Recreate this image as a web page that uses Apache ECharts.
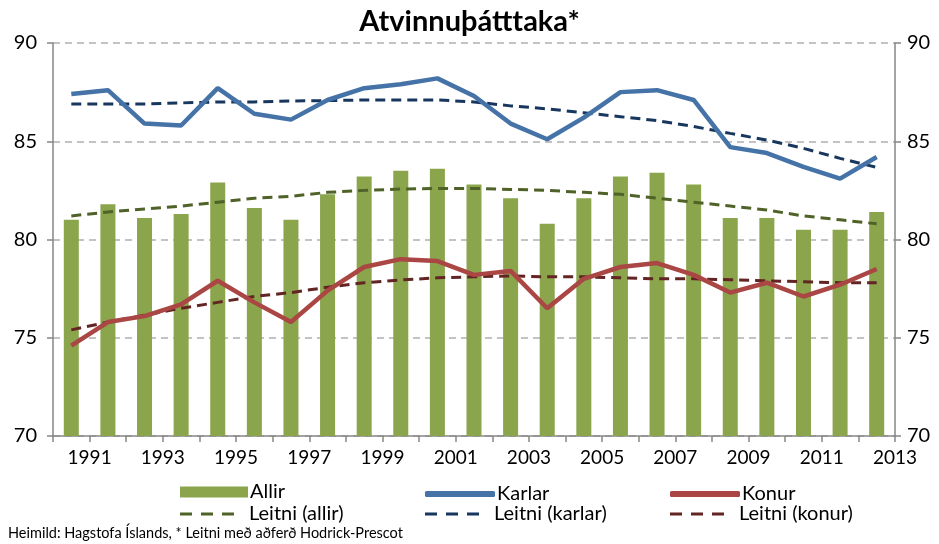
<!DOCTYPE html>
<html>
<head>
<meta charset="utf-8">
<script src="https://cdn.jsdelivr.net/npm/echarts@6/dist/echarts.min.js"></script>
<style>
  html, body { margin: 0; padding: 0; background: #fff; }
  #chart { width: 939px; height: 544px; }
</style>
</head>
<body>
<div id="chart"></div>
<script>
// ár (flokkar)
const years = ["1991", "1992", "1993", "1994", "1995", "1996", "1997", "1998", "1999", "2000", "2001", "2002",
  "2003", "2004", "2005", "2006", "2007", "2008", "2009", "2010", "2011", "2012", "2013"];

const allir = [81.0, 81.8, 81.1, 81.3, 82.9, 81.6, 81.0, 82.3, 83.2, 83.5, 83.6, 82.8,
  82.1, 80.8, 82.1, 83.2, 83.4, 82.8, 81.1, 81.1, 80.5, 80.5, 81.4];
const karlar = [87.4, 87.6, 85.9, 85.8, 87.7, 86.4, 86.1, 87.1, 87.7, 87.9, 88.2, 87.3,
  85.9, 85.1, 86.2, 87.5, 87.6, 87.1, 84.7, 84.4, 83.7, 83.1, 84.2];
const konur = [74.6, 75.8, 76.1, 76.7, 77.9, 76.8, 75.8, 77.4, 78.6, 79.0, 78.9, 78.2,
  78.4, 76.5, 78.0, 78.6, 78.8, 78.2, 77.3, 77.8, 77.1, 77.7, 78.5];
const leitniAllir = [81.2, 81.4, 81.55, 81.7, 81.9, 82.1, 82.2, 82.4, 82.5, 82.57, 82.6, 82.6,
  82.55, 82.5, 82.4, 82.3, 82.1, 81.9, 81.7, 81.5, 81.2, 81.0, 80.8];
const leitniKarlar = [86.9, 86.9, 86.9, 86.95, 87.0, 87.0, 87.05, 87.07, 87.1, 87.1, 87.1, 87.0,
  86.8, 86.65, 86.45, 86.25, 86.05, 85.75, 85.4, 85.06, 84.64, 84.13, 83.67];
const leitniKonur = [75.4, 75.8, 76.15, 76.5, 76.8, 77.1, 77.3, 77.57, 77.8, 77.94, 78.05, 78.1,
  78.15, 78.1, 78.1, 78.05, 78.0, 78.0, 77.95, 77.9, 77.85, 77.8, 77.8];

const yTicks = [70, 75, 80, 85, 90];

const chart = echarts.init(document.getElementById("chart"));
const font = "Lato, 'Open Sans', sans-serif";
const axisGray = "#868686";

const colors = {
  allir: "#8aa54c", karlar: "#4572a7", konur: "#aa4643",
  lAllir: "#4f6228", lKarlar: "#17375e", lKonur: "#632523"
};

const dashed = (name, data, color) => ({
  name: name,
  type: "line",
  data: data,
  symbol: "none",
  lineStyle: { color: color, width: 3, type: [10, 6] },
  itemStyle: { color: color },
  z: 3
});

const dashIcon = "path://M0,0h12v3h-12z M21,0h12v3h-12z M42,0h12v3h-12z";

// ein skýring á hvern lið
const legendItem = (left, top, name, color, icon, w, h, pad) => ({
  left: left,
  top: top,
  itemWidth: w,
  itemHeight: h,
  data: [{ name: name, icon: icon, itemStyle: { color: color, borderWidth: 0 } }],
  textStyle: { fontFamily: font, fontSize: 20, color: "#000", padding: [0, 0, 0, pad] }
});

chart.setOption({
  animation: false,
  title: {
    text: "Atvinnuþátttaka*",
    left: "center",
    top: 2,
    textStyle: { fontFamily: font, fontSize: 29, fontWeight: "bold", color: "#000" }
  },
  legend: [
    legendItem(175, 477, "Allir", colors.allir, "rect", 68, 11, -3),
    legendItem(420, 479, "Karlar", colors.karlar, "roundRect", 70, 6, -3),
    legendItem(665, 479, "Konur", colors.konur, "roundRect", 70, 6, -3),
    legendItem(175, 499, "Leitni (allir)", colors.lAllir, dashIcon, 54, 3, 10),
    legendItem(420, 499, "Leitni (karlar)", colors.lKarlar, dashIcon, 54, 3, 10),
    legendItem(665, 499, "Leitni (konur)", colors.lKonur, dashIcon, 54, 3, 10)
  ],
  grid: { left: 53, right: 44, top: 43, bottom: 108 },
  xAxis: [
    {
      type: "category",
      data: years,
      axisLine: { show: false },
      axisTick: { show: false },
      axisLabel: { show: false }
    },
    {
      type: "value",
      position: "bottom",
      min: 0,
      max: years.length,
      interval: 1,
      axisLine: { show: true, lineStyle: { color: axisGray, width: 1.5 } },
      axisTick: { show: true, length: 6, lineStyle: { color: axisGray, width: 1.5 } },
      splitLine: { show: false },
      axisLabel: {
        fontFamily: font, fontSize: 19, color: "#000", margin: 12,
        showMinLabel: true, showMaxLabel: true,
        formatter: v => (v % 2 === 1 ? years[v - 1] : "")
      }
    }
  ],
  yAxis: [
    {
      type: "value",
      min: yTicks[0],
      max: yTicks[yTicks.length - 1],
      interval: 5,
      axisLine: { show: true, lineStyle: { color: axisGray, width: 1.5 } },
      axisTick: { show: true, length: 6, lineStyle: { color: axisGray, width: 1.5 } },
      axisLabel: { fontFamily: font, fontSize: 20, color: "#000", margin: 16 },
      splitLine: { lineStyle: { color: "#b0b0b0", width: 1.5, type: [7, 5] } }
    },
    {
      type: "value",
      position: "right",
      min: yTicks[0],
      max: yTicks[yTicks.length - 1],
      interval: 5,
      axisLine: { show: true, lineStyle: { color: axisGray, width: 1.5 } },
      axisTick: { show: true, length: 6, lineStyle: { color: axisGray, width: 1.5 } },
      axisLabel: { fontFamily: font, fontSize: 20, color: "#000", margin: 12 },
      splitLine: { show: false }
    }
  ],
  series: [
    {
      name: "Allir",
      type: "bar",
      data: allir,
      barWidth: 15,
      itemStyle: { color: colors.allir },
      z: 1
    },
    {
      name: "Karlar",
      type: "line",
      data: karlar,
      symbol: "none",
      lineStyle: { color: colors.karlar, width: 4.5 },
      itemStyle: { color: colors.karlar },
      z: 4
    },
    {
      name: "Konur",
      type: "line",
      data: konur,
      symbol: "none",
      lineStyle: { color: colors.konur, width: 4.5 },
      itemStyle: { color: colors.konur },
      z: 4
    },
    dashed("Leitni (allir)", leitniAllir, colors.lAllir),
    dashed("Leitni (karlar)", leitniKarlar, colors.lKarlar),
    dashed("Leitni (konur)", leitniKonur, colors.lKonur)
  ],
  graphic: [
    {
      type: "text",
      left: 8,
      top: 526,
      style: {
        text: "Heimild: Hagstofa Íslands, * Leitni með aðferð Hodrick-Prescot",
        fontFamily: font, fontSize: 14.5, fill: "#000"
      }
    }
  ]
});
</script>
</body>
</html>
